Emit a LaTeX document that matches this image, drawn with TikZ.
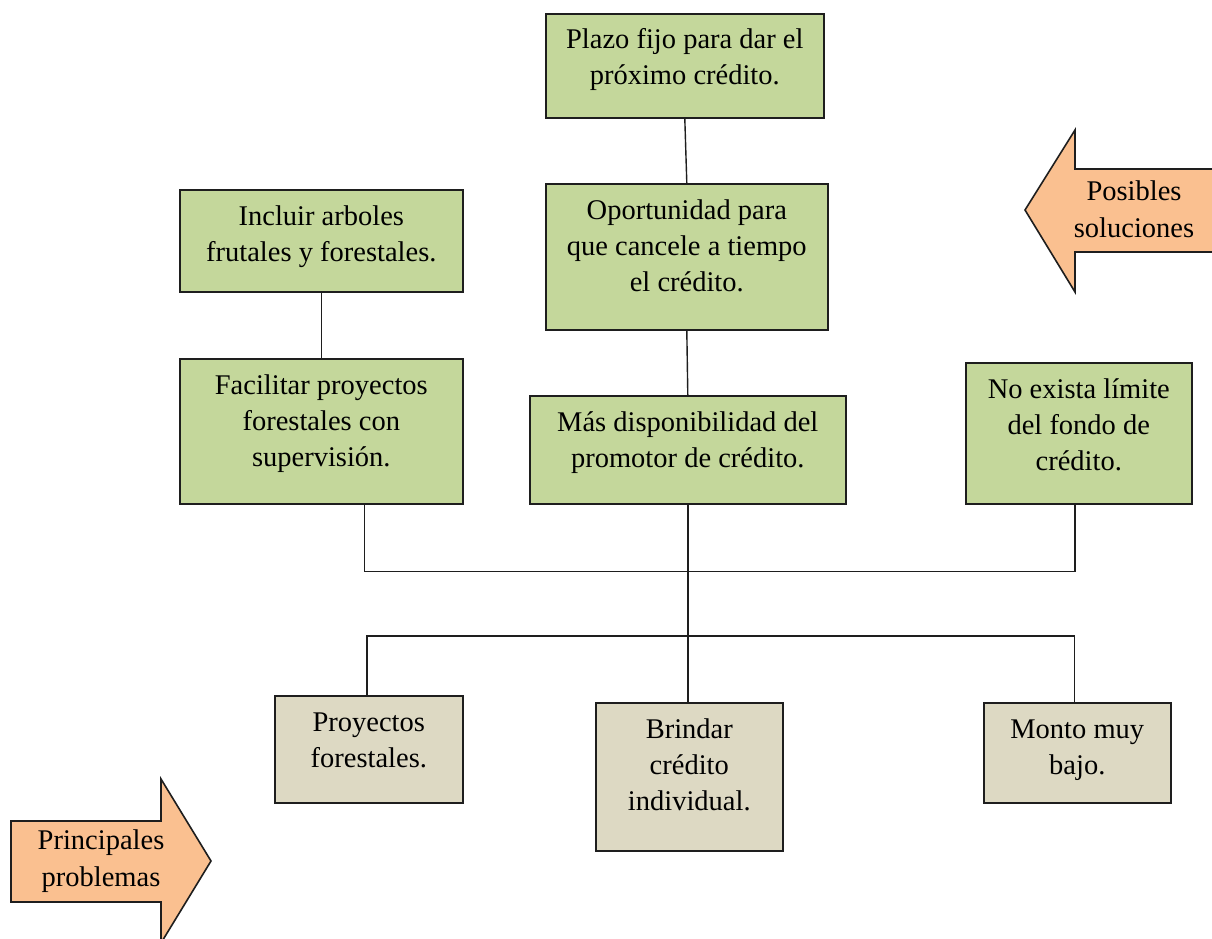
\documentclass[tikz,border=0pt]{standalone}
\usepackage{fontspec}
\setmainfont{Liberation Serif}

\definecolor{verde}{RGB}{196,215,155}
\definecolor{arena}{RGB}{221,217,195}
\definecolor{salmon}{RGB}{250,192,144}
\definecolor{borde}{RGB}{30,30,30}

\newcommand{\textocaja}[3]{\parbox[c][#2pt][t]{#1pt}{\centering\vskip 10pt\strut #3}}

\begin{document}
\begin{tikzpicture}[x=1pt,y=-1pt]
	\tikzstyle{caja} = [draw=borde, line width=1.6pt, inner sep=0pt, anchor=north west, font=\fontsize{28.5}{36}\selectfont];
	\tikzstyle{flecha} = [draw=borde, line width=1.6pt, fill=salmon];
	\tikzstyle{rotulo} = [align=center, inner sep=0pt, font=\fontsize{28.5}{37}\selectfont];
	\tikzstyle{linea} = [draw=borde, line width=1.4pt];

	\useasboundingbox (0,0) rectangle (1212,939);
	\clip (0,0) rectangle (1212,939);

	\draw[flecha] (1025,210) -- (1075,130) -- (1075,169) -- (1230,169) -- (1230,252) -- (1075,252) -- (1075,292) -- cycle;
	\node[rotulo] at (1134,209) (soluciones) {Posibles\\soluciones};

	\draw[flecha] (11,821) -- (161,821) -- (161,779) -- (211,861) -- (161,943) -- (161,902) -- (11,902) -- cycle;
	\node[rotulo] at (101,861) (problemas) {Principales\\problemas};

	\node[caja, fill=verde] at (545,13) (plazo) {\textocaja{278}{104}{Plazo fijo para dar el\\próximo crédito.}};
	\node[caja, fill=verde] at (545,183) (oport) {\textocaja{282}{146}{Oportunidad para\\que cancele a tiempo\\el crédito.}};
	\node[caja, fill=verde] at (179,189) (incluir) {\textocaja{283}{102}{Incluir arboles\\frutales y forestales.}};
	\node[caja, fill=verde] at (179,358) (facilitar) {\textocaja{283}{145}{Facilitar proyectos\\forestales con\\supervisión.}};
	\node[caja, fill=verde] at (529,395) (mas) {\textocaja{316}{108}{Más disponibilidad del\\promotor de crédito.}};
	\node[caja, fill=verde] at (965,362) (noexista) {\textocaja{226}{141}{No exista límite\\del fondo de\\crédito.}};

	\node[caja, fill=arena] at (274,695) (proyectos) {\textocaja{188}{107}{Proyectos\\forestales.}};
	\node[caja, fill=arena] at (595,702) (brindar) {\textocaja{187}{148}{Brindar\\crédito\\individual.}};
	\node[caja, fill=arena] at (983,702) (monto) {\textocaja{187}{100}{Monto muy\\bajo.}};

	\draw[linea] (plazo.south) -- (oport.north);
	\draw[linea] (oport.south) -- (mas.north);
	\draw[linea] (incluir.south) -- (facilitar.north);
	\draw[linea] ([xshift=43pt]facilitar.south) -- ++(0,67) -| ([xshift=-4pt]noexista.south);
	\draw[linea] (mas.south) -- (mas.south |- brindar.north);
	\draw[linea] ([xshift=-2pt]proyectos.north) -- ++(0,-59) -| ([xshift=-3pt]monto.north);

\end{tikzpicture}
\end{document}
